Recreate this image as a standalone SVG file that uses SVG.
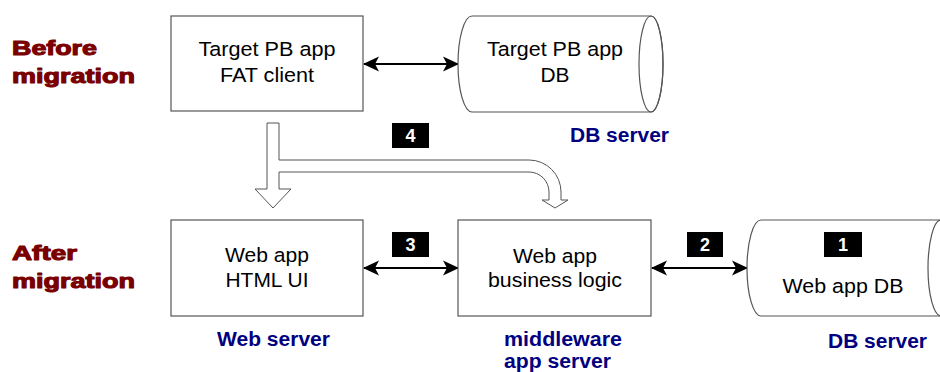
<svg xmlns="http://www.w3.org/2000/svg" width="940" height="372" viewBox="0 0 940 372">
<style>
text{font-family:"Liberation Sans",Arial,sans-serif}
.body{font-size:20.5px;fill:#000;text-anchor:middle}
.phase{font-size:21px;font-weight:bold;fill:#7a0000;stroke:#7a0000;stroke-width:1.1;stroke-linejoin:round}
.srv{font-size:19.5px;font-weight:bold;fill:#000080}
.box{fill:#fff;stroke:#555;stroke-width:1.2}
.num{fill:#000}
.numt{font-size:18px;font-weight:bold;fill:#fff;text-anchor:middle}
.conn{stroke:#000;stroke-width:2.2;fill:none;marker-start:url(#ah);marker-end:url(#ah)}
.fat{fill:#fff;stroke:#555;stroke-width:1}
</style>
<defs>
<marker id="ah" markerUnits="userSpaceOnUse" viewBox="0 -8 16 16" refX="15" refY="0" markerWidth="16" markerHeight="16" orient="auto-start-reverse">
<path d="M16,0 L0,-7.5 L4,0 L0,7.5 Z" fill="#000"/>
</marker>
</defs>
<rect width="940" height="372" fill="#fff"/>

<g id="phase-labels">
<text class="phase" x="12" y="55" textLength="85" lengthAdjust="spacingAndGlyphs">Before</text>
<text class="phase" x="12" y="83" textLength="123" lengthAdjust="spacingAndGlyphs">migration</text>
<text class="phase" x="12" y="260" textLength="65" lengthAdjust="spacingAndGlyphs">After</text>
<text class="phase" x="12" y="288" textLength="123" lengthAdjust="spacingAndGlyphs">migration</text>
</g>

<g id="connectors">
<line class="conn" x1="364" y1="64" x2="458" y2="64"/>
<line class="conn" x1="364" y1="268" x2="458" y2="268"/>
<line class="conn" x1="652" y1="268" x2="747" y2="268"/>
<path class="fat" d="M267,123 L279,123 L279,160 L529,160 A32,32 0 0 1 561,192 L561,200 L568,200 L555,208 L542,200 L549,200 L549,192 A20,20 0 0 0 529,172 L279,172 L279,189 L291,189 L273,208 L255,189 L267,189 Z"/>
</g>

<g id="fat-client">
<rect class="box" x="171" y="16" width="192" height="95"/>
<text class="body" x="267" y="56" textLength="137" lengthAdjust="spacingAndGlyphs">Target PB app</text>
<text class="body" x="267" y="82" textLength="94" lengthAdjust="spacingAndGlyphs">FAT client</text>
</g>

<g id="target-db">
<path class="box" d="M472,16 L651,16 A12,48 0 0 1 651,112 L472,112 A14,48 0 0 1 472,16 Z"/>
<ellipse cx="651" cy="64" rx="12" ry="48" fill="none" stroke="#555" stroke-width="1.2"/>
<text class="body" x="555" y="56" textLength="136" lengthAdjust="spacingAndGlyphs">Target PB app</text>
<text class="body" x="555" y="82" textLength="29" lengthAdjust="spacingAndGlyphs">DB</text>
<text class="srv" x="570" y="142" textLength="99" lengthAdjust="spacingAndGlyphs">DB server</text>
</g>

<g id="label-4">
<rect class="num" x="392" y="123" width="37" height="25"/>
<text class="numt" x="410.5" y="142">4</text>
</g>

<g id="web-ui">
<rect class="box" x="171" y="220" width="192" height="96"/>
<text class="body" x="267" y="262" textLength="84" lengthAdjust="spacingAndGlyphs">Web app</text>
<text class="body" x="267" y="287" textLength="83" lengthAdjust="spacingAndGlyphs">HTML UI</text>
<text class="srv" x="217" y="346" textLength="113" lengthAdjust="spacingAndGlyphs">Web server</text>
</g>

<g id="label-3">
<rect class="num" x="392" y="232" width="37" height="25"/>
<text class="numt" x="410.5" y="251">3</text>
</g>

<g id="business-logic">
<rect class="box" x="458" y="220" width="193" height="96"/>
<text class="body" x="555" y="263" textLength="84" lengthAdjust="spacingAndGlyphs">Web app</text>
<text class="body" x="555" y="287" textLength="134" lengthAdjust="spacingAndGlyphs">business logic</text>
<text class="srv" x="504" y="346" textLength="118" lengthAdjust="spacingAndGlyphs">middleware</text>
<text class="srv" x="504" y="368" textLength="107" lengthAdjust="spacingAndGlyphs">app server</text>
</g>

<g id="label-2">
<rect class="num" x="687" y="232" width="36" height="25"/>
<text class="numt" x="705" y="251">2</text>
</g>

<g id="web-db">
<path class="box" d="M761,220 L941,220 A13,48 0 0 1 941,316 L761,316 A14,48 0 0 1 761,220 Z"/>
<ellipse cx="941" cy="268" rx="13" ry="48" fill="none" stroke="#555" stroke-width="1.2"/>
<rect class="num" x="824" y="232" width="38" height="25"/>
<text class="numt" x="843" y="251">1</text>
<text class="body" x="843" y="293" textLength="121" lengthAdjust="spacingAndGlyphs">Web app DB</text>
<text class="srv" x="828" y="348" textLength="99" lengthAdjust="spacingAndGlyphs">DB server</text>
</g>
</svg>
